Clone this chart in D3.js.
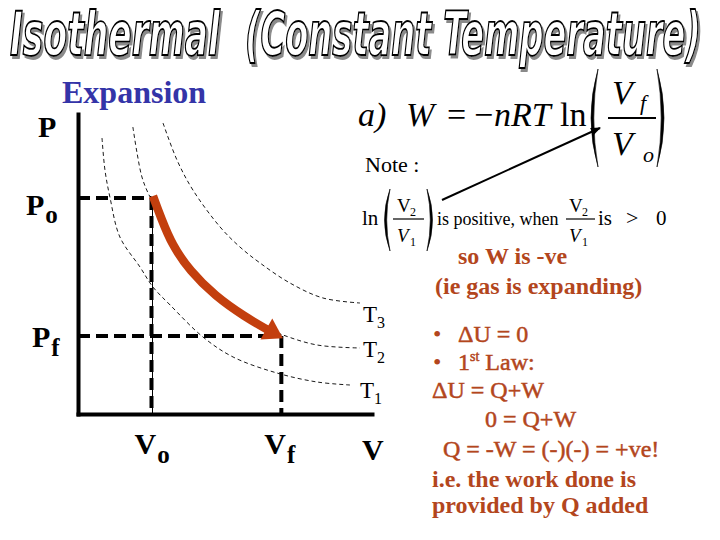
<!DOCTYPE html>
<html>
<head>
<meta charset="utf-8">
<script src="https://cdn.jsdelivr.net/npm/d3@7/dist/d3.min.js"></script>
<style>
  body { margin: 0; background: #fff; }
  svg { display: block; }
</style>
</head>
<body>
<div id="chart"></div>
<script>

// isotherms as [V, P]
var isoT1 = [[0.98,11.04],[1.10,9.76],[1.31,8.64],[1.71,7.08],[2.53,5.88],[3.06,5.08],[3.76,4.36],
             [5.10,3.08],[6.33,2.28],[8.12,1.64],[9.76,1.28],[11.10,1.16]];
var isoT2 = [[2.24,11.48],[2.41,10.44],[2.61,9.48],[2.86,8.84],[3.35,7.96],[3.76,6.84],[4.57,5.64],
             [5.67,4.56],[6.82,3.88],[7.63,3.48],[8.37,3.16],[9.76,2.76],[11.51,2.64]];
var isoT3 = [[3.47,11.64],[4.04,10.16],[4.69,8.96],[5.80,7.48],[6.61,6.68],[7.43,6.04],[8.65,5.24],
             [10.0,4.64],[11.51,4.44]];
var isotherms = [isoT1, isoT2, isoT3];
var tempSubs = ["1", "2", "3"];

// the expansion path (red arrow) along T2
var expansionPath = [[3.06,8.72],[3.39,7.84],[3.84,6.76],[4.57,5.72],[5.59,4.72],[6.82,3.88],[7.76,3.36]];

var volumes = [3.0, 8.3];      // Vo, Vf
var pressures = [8.64, 3.12];  // Po, Pf
var volSubs = ["o", "f"];
var presSubs = ["o", "f"];

var notes = [
  {t: "so W is -ve", bold: true},
  {t: "(ie gas is expanding)", bold: true},
  {t: "\u0394U = 0", bullet: true},
  {t: "1", sup: "st", rest: " Law:", bullet: true},
  {t: "\u0394U = Q+W"},
  {t: "0 = Q+W"},
  {t: "Q = -W = (-)(-) = +ve!"},
  {t: "i.e. the work done is", bold: true},
  {t: "provided by Q added", bold: true}
];

var width = 720, height = 540;
var serif = "'Liberation Serif','Times New Roman',serif";
var red = "#c33f0e", brown = "#b3461d";

var svg = d3.select("#chart").append("svg")
  .attr("width", width)
  .attr("height", height);

var defs = svg.append("defs");

// gray drop shadow for the title
var sh = defs.append("filter").attr("id", "shadow")
  .attr("x", "-5%").attr("y", "-10%").attr("width", "115%").attr("height", "130%");
sh.append("feOffset").attr("in", "SourceAlpha").attr("dx", 3).attr("dy", 3).attr("result", "off");
sh.append("feFlood").attr("flood-color", "#8a8a8a").attr("result", "col");
sh.append("feComposite").attr("in", "col").attr("in2", "off").attr("operator", "in").attr("result", "shd");
var mg = sh.append("feMerge");
mg.append("feMergeNode").attr("in", "shd");
mg.append("feMergeNode").attr("in", "SourceGraphic");

// ---------- title ----------
var titleParts = [["Isothermal", 10, 210], ["(Constant Temperature)", 245, 456]];
titleParts.forEach(function(p){
  var t = svg.append("text")
    .attr("x", 0).attr("y", 0)
    .style("font-family", "'DejaVu Sans Condensed','DejaVu Sans',sans-serif")
    .style("font-weight", "bold").style("font-style", "italic")
    .style("font-size", "60px")
    .attr("fill", "#fff").attr("stroke", "#000").attr("stroke-width", 1.8)
    .attr("filter", "url(#shadow)")
    .text(p[0]);
  var w = t.node().getComputedTextLength();
  t.attr("transform", "translate(" + p[1] + ",55) scale(" + (p[2] / w) + ",1)");
});

// ---------- diagram ----------
var x = d3.scaleLinear().domain([0, 12]).range([78, 372]);
var y = d3.scaleLinear().domain([0, 12]).range([414, 114]);

var line = d3.line()
  .x(function(d){ return x(d[0]); })
  .y(function(d){ return y(d[1]); })
  .curve(d3.curveCatmullRom.alpha(0.5));

svg.selectAll(".iso")
  .data(isotherms)
  .enter().append("path")
  .attr("class", "iso")
  .attr("d", line)
  .attr("fill", "none")
  .attr("stroke", "#000")
  .attr("stroke-width", 0.9)
  .attr("stroke-dasharray", "4,3");

// temperature labels at the curve ends
var tOff = [[10, 13], [3, 9], [3, 19]];
isotherms.forEach(function(c, i){
  var last = c[c.length - 1];
  var t = svg.append("text")
    .attr("x", x(last[0]) + tOff[i][0])
    .attr("y", y(last[1]) + tOff[i][1])
    .style("font-family", serif).style("font-size", "23px");
  t.append("tspan").text("T");
  t.append("tspan").attr("dy", 6).style("font-size", "16px").text(tempSubs[i]);
});

// dashed guides
var guides = [];
volumes.forEach(function(v, i){
  guides.push({x1: 0, y1: pressures[i], x2: v, y2: pressures[i]});
  guides.push({x1: v, y1: pressures[i], x2: v, y2: 0});
});
svg.append("line")
  .attr("x1", x(volumes[0]) + 1).attr("x2", x(volumes[0]) + 1)
  .attr("y1", y(pressures[0])).attr("y2", y(0))
  .attr("stroke", "#000").attr("stroke-width", 1);
svg.selectAll(".guide")
  .data(guides)
  .enter().append("line")
  .attr("class", "guide")
  .attr("x1", function(d){ return x(d.x1); })
  .attr("y1", function(d){ return y(d.y1); })
  .attr("x2", function(d){ return x(d.x2); })
  .attr("y2", function(d){ return y(d.y2); })
  .attr("stroke", "#000")
  .attr("stroke-width", 4)
  .attr("stroke-dasharray", "12,6");

// axes, no ticks
var gx = svg.append("g").attr("transform", "translate(0," + y(0) + ")")
  .call(d3.axisBottom(x).tickValues([]).tickSizeOuter(0));
var gy = svg.append("g").attr("transform", "translate(" + x(0) + ",0)")
  .call(d3.axisLeft(y).tickValues([]).tickSizeOuter(0));
[gx, gy].forEach(function(g){
  g.select(".domain").attr("stroke", "#000").attr("stroke-width", 4).attr("stroke-linecap", "square");
});

// red expansion arrow
defs.append("marker")
  .attr("id", "redhead")
  .attr("markerUnits", "userSpaceOnUse")
  .attr("markerWidth", 26).attr("markerHeight", 28)
  .attr("viewBox", "0 -14 22 28")
  .attr("refX", 2).attr("refY", 0)
  .attr("orient", "auto")
  .append("path")
  .attr("d", "M0,-12L19,0L0,12Z")
  .attr("fill", red);

svg.append("path")
  .datum(expansionPath)
  .attr("d", line.curve(d3.curveBasis))
  .attr("fill", "none")
  .attr("stroke", red)
  .attr("stroke-width", 8.5)
  .attr("marker-end", "url(#redhead)");

// axis labels
function subLabel(px, py, main, sub, size, subSize, dy){
  var t = svg.append("text").attr("x", px).attr("y", py)
    .style("font-family", serif).style("font-weight", "bold").style("font-size", size + "px");
  t.append("tspan").text(main);
  if (sub) t.append("tspan").attr("dx", 1).attr("dy", dy).style("font-size", subSize + "px").text(sub);
}
subLabel(38, 137, "P", null, 30);
pressures.forEach(function(p, i){
  subLabel(i == 0 ? 26 : 32, y(p) + (i == 0 ? 17 : 11), "P", presSubs[i], 30, 25, i == 0 ? 8 : 9);
});
volumes.forEach(function(v, i){
  subLabel(x(v) - 17, 454, "V", volSubs[i], 30, 25, 9);
});
subLabel(x(12) - 10, 460, "V", null, 30);

svg.append("text")
  .attr("x", 62).attr("y", 103)
  .style("font-family", serif).style("font-weight", "bold").style("font-size", "32px")
  .attr("fill", "#3434a8")
  .text("Expansion");

// ---------- formula ----------
function txt(px, py, s, size, italic){
  return svg.append("text").attr("x", px).attr("y", py)
    .style("font-family", serif).style("font-size", size + "px")
    .style("font-style", italic ? "italic" : "normal")
    .text(s);
}
// tall bracket drawn as a thin crescent; dir -1 = "(", 1 = ")"
function paren(px, top, bottom, bulge, dir){
  var mid = (top + bottom) / 2;
  svg.append("path")
    .attr("d", "M" + px + "," + top +
               "Q" + (px + dir * bulge) + "," + mid + " " + px + "," + bottom +
               "Q" + (px + dir * bulge * 0.6) + "," + mid + " " + px + "," + top + "Z")
    .attr("fill", "#000").attr("stroke", "#000").attr("stroke-width", 0.6);
}
function bar(x1, x2, yy, w){
  svg.append("line").attr("x1", x1).attr("x2", x2).attr("y1", yy).attr("y2", yy)
    .attr("stroke", "#000").attr("stroke-width", w);
}
txt(358, 126, "a)", 34, true);
txt(406, 126, "W", 34, true);
txt(447, 126, "=", 34, false);
txt(474, 126, "\u2212", 34, false);
txt(494, 126, "nRT", 34, true);
txt(560, 126, "ln", 34, false);
paren(598, 69, 167, -14, 1);
txt(612, 104, "V", 34, true);
txt(640, 110, "f", 22, true);
bar(608, 656, 118, 1.8);
txt(612, 155, "V", 34, true);
txt(643, 162, "o", 22, true);
paren(657, 69, 167, 14, 1);

txt(365, 172, "Note :", 22, false);

txt(362, 225, "ln", 21, false);
paren(390, 189, 251, -11, 1);
txt(397, 212, "V", 19, false);
txt(410, 216, "2", 12, false);
bar(393, 424, 219, 1.2);
txt(397, 242, "V", 19, true);
txt(410, 246, "1", 12, false);
paren(427, 189, 251, 11, 1);
txt(437, 225, "is positive, when", 18, false);
txt(569, 212, "V", 19, false);
txt(582, 216, "2", 12, false);
bar(566, 595, 219, 1.2);
txt(569, 242, "V", 19, true);
txt(582, 246, "1", 12, false);
txt(598, 225, "is", 21, false);
txt(626, 225, ">", 22, false);
txt(656, 225, "0", 21, false);

// pointer from the note to ln(Vf/Vo)
defs.append("marker")
  .attr("id", "blackhead")
  .attr("markerUnits", "userSpaceOnUse")
  .attr("markerWidth", 12).attr("markerHeight", 10)
  .attr("viewBox", "0 -5 10 10")
  .attr("refX", 9).attr("refY", 0)
  .attr("orient", "auto")
  .append("path").attr("d", "M0,-4L10,0L0,4Z").attr("fill", "#000");
svg.append("line")
  .attr("x1", 442).attr("y1", 200).attr("x2", 600).attr("y2", 128)
  .attr("stroke", "#000").attr("stroke-width", 2)
  .attr("marker-end", "url(#blackhead)");

// ---------- notes ----------
var noteX = [458, 435, 458, 458, 432, 485, 443, 432, 432];
var noteY = [264, 294, 342, 370, 398, 427, 457, 487, 513];
notes.forEach(function(n, i){
  var t = svg.append("text")
    .attr("x", noteX[i]).attr("y", noteY[i])
    .attr("fill", brown)
    .attr("stroke", n.bold ? "none" : brown)
    .attr("stroke-width", 0.5)
    .style("font-family", serif)
    .style("font-weight", n.bold ? "bold" : "normal")
    .style("font-size", "24px");
  t.append("tspan").text(n.t);
  if (n.sup) {
    t.append("tspan").attr("dy", -9).style("font-size", "14px").text(n.sup);
    t.append("tspan").attr("dy", 9).text(n.rest);
  }
  if (n.bullet) {
    svg.append("text").attr("x", 433).attr("y", noteY[i])
      .attr("fill", brown).style("font-family", serif).style("font-size", "24px")
      .text("\u2022");
  }
});

</script>
</body>
</html>
